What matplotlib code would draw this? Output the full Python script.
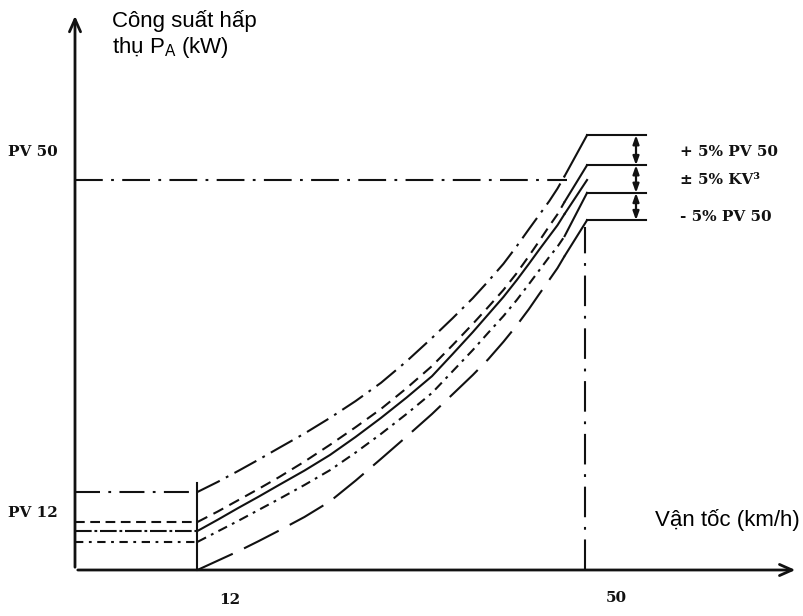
import matplotlib
matplotlib.use("Agg")
import matplotlib.pyplot as plt

plt.rcParams['lines.scale_dashes'] = False

# speed grid (km/h) and power levels (PV50 = 100)
speed = [12, 14, 16, 18, 20, 22.5, 25, 27.5, 30, 32.5, 35, 37, 39, 40.5,
         42, 43.3, 44.5, 45.5, 46.5, 47.3, 48]
p_top = [20, 22.6, 25.4, 28.3, 31.3, 35.0, 39.0, 43.3, 48.0, 53.5, 59.5,
         64.5, 69.7, 74.0, 78.5, 83.0, 87.4, 91.0, 94.6, 97.8, 101.0]
p_upper = [12.3, 15.0, 17.9, 20.8, 23.8, 27.8, 32.1, 36.6, 41.3, 46.6, 52.3,
           57.6, 63.1, 67.4, 71.8, 76.1, 80.5, 84.3, 88.2, 91.2, 94.4]
p_nominal = [10, 12.9, 15.9, 18.8, 21.8, 25.5, 29.5, 34.1, 39.0, 44.2, 49.7,
             55.3, 61.0, 65.5, 70.0, 74.3, 78.5, 82.1, 85.6, 88.4, 91.3]
p_lower = [7.2, 9.9, 12.6, 15.4, 18.2, 21.8, 25.6, 30.1, 34.9, 40.0, 45.4,
           50.9, 56.4, 60.8, 65.1, 69.2, 73.3, 76.8, 80.3, 82.9, 85.6]
p_bottom = [0, 2.4, 4.8, 7.4, 10.1, 13.6, 17.6, 22.9, 28.5, 34.2, 40.0,
            45.0, 50.0, 54.0, 58.5, 62.7, 66.9, 70.7, 74.4, 77.4, 80.5]

# plateaus at the right end (top, +5%, -5%, bottom)
plateau_levels = [111.5, 103.8, 96.7, 89.7]
plateau_start = 50.2
plateau_end = 56.0
nominal_end = 100.0
pv50 = 100.0
pv12_label = 14.6
v_low, v_high = 12, 50

ink = '#111111'
lw = 1.5
typer = ['DejaVu Serif']
sans = ['Liberation Sans', 'DejaVu Sans']

fig = plt.figure(figsize=(8.04, 6.16), dpi=100)
ax = fig.add_axes([0, 0, 1, 1])
ax.set_xlim(-75 / 10.2, (804 - 75) / 10.2)
ax.set_ylim((570 - 616) / 3.9, 570 / 3.9)
ax.axis('off')

# axes with open arrow heads
arrow = dict(arrowstyle='->,head_length=0.9,head_width=0.4', lw=2, color=ink)
ax.annotate('', xy=(0, 142.8), xytext=(0, 0), arrowprops=arrow)
ax.annotate('', xy=(70.9, 0), xytext=(0, 0), arrowprops=arrow)

# curves between 12 and 50 km/h
styles = [(18, 5, 2, 5), (8, 5), None, (7, 4, 2, 4), (28, 9)]
curves = [p_top, p_upper, p_nominal, p_lower, p_bottom]
for p, ds in zip(curves, styles):
    if ds is None:
        ax.plot(speed, p, color=ink, lw=lw)
    else:
        ax.plot(speed, p, color=ink, lw=lw, dashes=ds)

# hooks up to the plateaus
ends = [plateau_levels[0], plateau_levels[1], nominal_end,
        plateau_levels[2], plateau_levels[3]]
for p, e in zip(curves, ends):
    ax.plot([speed[-1], plateau_start], [p[-1], e], color=ink, lw=lw)
for lev in plateau_levels:
    ax.plot([plateau_start, plateau_end], [lev, lev], color=ink, lw=lw)

# tolerance arrows
dim = dict(arrowstyle='<|-|>,head_length=0.5,head_width=0.18', lw=1.6, color=ink,
           shrinkA=0, shrinkB=0)
for a, b in zip(plateau_levels[:-1], plateau_levels[1:]):
    ax.annotate('', xy=(55, a), xytext=(55, b), arrowprops=dim)

# horizontal lines below 12 km/h
left_levels = [p_top[0], p_upper[0], p_nominal[0], p_lower[0]]
left_styles = [(18, 6, 2, 6), (7, 4), (12, 2, 2, 2), (6, 4, 2, 4)]
for lev, ds in zip(left_levels, left_styles):
    ax.plot([0, v_low], [lev, lev], color=ink, lw=lw, dashes=ds)

# PV 50 line and vertical lines
ax.plot([0, 48.2], [pv50, pv50], color=ink, lw=lw, dashes=(20, 6, 2, 6))
ax.plot([v_low, v_low], [0, 22.3], color=ink, lw=lw)
ax.plot([v_high, v_high], [0, 88], color=ink, lw=lw, dashes=(22, 7, 2, 7))

# texts
ax.text(3.63, 139.2, 'Công suất hấp', family=sans, fontsize=16, va='baseline')
ax.text(3.63, 132.5, r'thụ P$_{\mathregular{A}}$ (kW)', family=sans, fontsize=16,
        va='baseline')
ax.text(56.9, 11.3, 'Vận tốc (km/h)', family=sans, fontsize=16, va='baseline')

tk = dict(family=typer, fontsize=11, fontweight='bold', color=ink)
ax.text(-6.57, 107.2, 'PV 50', va='center', **tk)
ax.text(-6.57, pv12_label, 'PV 12', va='center', **tk)
ax.text(15.2, -7.7, str(v_low), ha='center', va='center', **tk)
ax.text(53.1, -7.2, str(v_high), ha='center', va='center', **tk)
ax.text(59.3, 107.2, '+ 5% PV 50', va='center', **tk)
ax.text(59.3, 100.0, '± 5% KV³', va='center', **tk)
ax.text(59.3, 90.5, '- 5% PV 50', va='center', **tk)

fig.savefig('out.png', dpi=100)
